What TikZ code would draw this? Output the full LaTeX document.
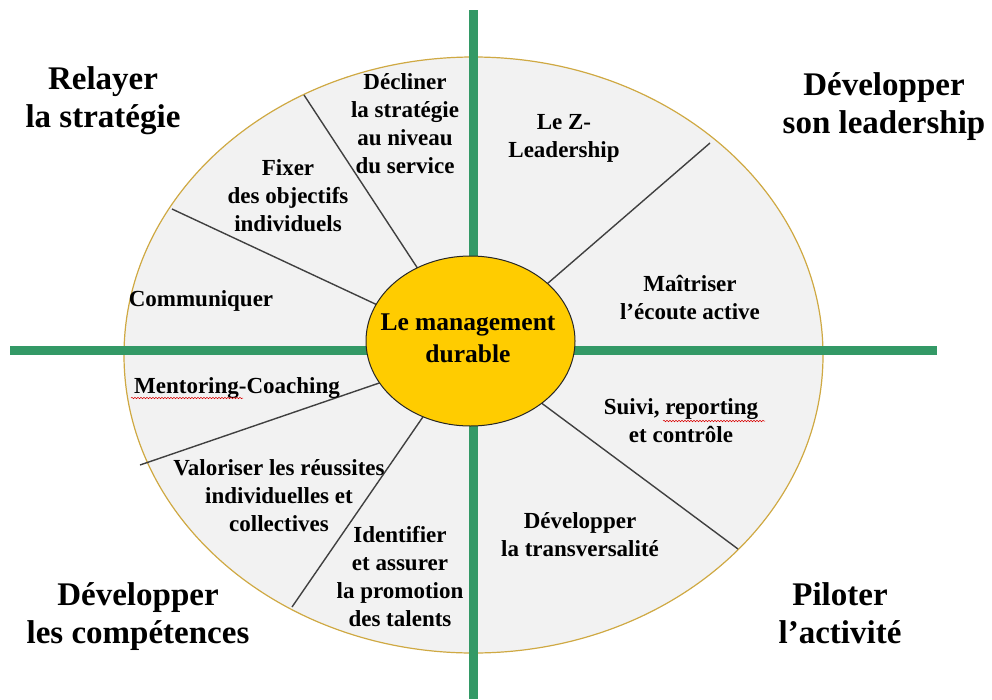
\documentclass[tikz,border=0pt]{standalone}
\usepackage{fontspec}
\setmainfont{Liberation Serif}[BoldFont={Liberation Serif Bold}]
\newfontfamily\labelfont{Liberation Serif Bold}
\usetikzlibrary{shapes.geometric,decorations.pathmorphing}
\definecolor{ringfill}{HTML}{F2F2F2}
\definecolor{ringline}{HTML}{CFA943}
\definecolor{axisgreen}{HTML}{339966}
\definecolor{corefill}{HTML}{FFCC00}
\definecolor{divider}{HTML}{404040}
\tikzset{
  item/.style={font=\labelfont\fontsize{23}{28}\selectfont, align=center, inner sep=0pt,
    execute at begin node=\strut, execute at end node=\strut},
  corner/.style={font=\labelfont\fontsize{33}{38}\selectfont, align=center, inner sep=0pt,
    execute at begin node=\strut, execute at end node=\strut},
  coretext/.style={font=\labelfont\fontsize{25.5}{32}\selectfont, align=center, inner sep=0pt,
    execute at begin node=\strut, execute at end node=\strut},
  divline/.style={draw=divider, line width=1.4pt},
  axisline/.style={draw=axisgreen, line width=9pt},
  squiggle/.style={draw=red!85!black, line width=0.5pt, decorate,
    decoration={snake, amplitude=0.7pt, segment length=3pt}}
}
\begin{document}
\begin{tikzpicture}[x=1pt,y=-1pt]
\useasboundingbox (0,0) rectangle (992,699);
% outer ring
\node[ellipse, draw=ringline, fill=ringfill, line width=1.2pt, inner sep=0pt,
      minimum width=699pt, minimum height=596pt] (ring) at (473.5,355) {};
% divider end points
\coordinate (d1i) at (422,275); \coordinate (d1o) at (304,95);
\coordinate (d2i) at (386,309); \coordinate (d2o) at (172,209);
\coordinate (d3i) at (540,290); \coordinate (d3o) at (710,143);
\coordinate (d4i) at (388,380); \coordinate (d4o) at (140,465);
\coordinate (d5i) at (427,411); \coordinate (d5o) at (292,607);
\coordinate (d6i) at (536,399); \coordinate (d6o) at (738,549);
\draw[divline] (d1i) -- (d1o);
\draw[divline] (d2i) -- (d2o);
\draw[divline] (d3i) -- (d3o);
\draw[divline] (d4i) -- (d4o);
\draw[divline] (d5i) -- (d5o);
\draw[divline] (d6i) -- (d6o);
% green axes
\coordinate (hl) at (10,350.5); \coordinate (hr) at (937,350.5);
\coordinate (vt) at (473,10);   \coordinate (vb) at (473,699);
\draw[axisline] (hl) -- (hr);
\draw[axisline] (vt) -- (vb);
% core
\node[ellipse, draw=black!85, fill=corefill, line width=1pt, inner sep=0pt,
      minimum width=209pt, minimum height=170pt] (core) at (470.5,341) {};
\node[coretext] (coretitle) at (468,342.6) {Le management\\durable};
% corner labels
\node[corner] (relayer) at (103,102.9) {Relayer\\la stratégie};
\node[corner] (leader) at (884,108.4) {Développer\\son leadership};
\node[corner] (competences) at (138,618.4) {Développer\\les compétences};
\node[corner] (piloter) at (840,618.4) {Piloter\\l’activité};
% sector labels
\node[item] (decliner) at (405,127.9) {Décliner\\la stratégie\\au niveau\\du service};
\node[item] (fixer) at (288,199.4) {Fixer\\des objectifs\\individuels};
\node[item] (communiquer) at (201,300.4) {Communiquer};
\node[item] (mentoring) at (237,387.4) {Mentoring-Coaching};
\node[item] (valoriser) at (279,499.9) {Valoriser les réussites\\individuelles et\\collectives};
\node[item] (identifier) at (400,580.9) {Identifier\\et assurer\\la promotion\\des talents};
\node[item] (zleader) at (564,140.4) {Le Z-\\Leadership};
\node[item] (ecoute) at (690,301.9) {Maîtriser\\l’écoute active};
\node[item] (suivi) at (681,424.9) {Suivi, reporting\\et contrôle};
\node[item] (transv) at (580,538.9) {Développer\\la transversalité};
% spell-check underlines
\coordinate (sq1a) at (131,398); \coordinate (sq1b) at (243,398);
\coordinate (sq2a) at (663,421); \coordinate (sq2b) at (765,421);
\draw[squiggle] (sq1a) -- (sq1b);
\draw[squiggle] (sq2a) -- (sq2b);
\end{tikzpicture}
\end{document}
